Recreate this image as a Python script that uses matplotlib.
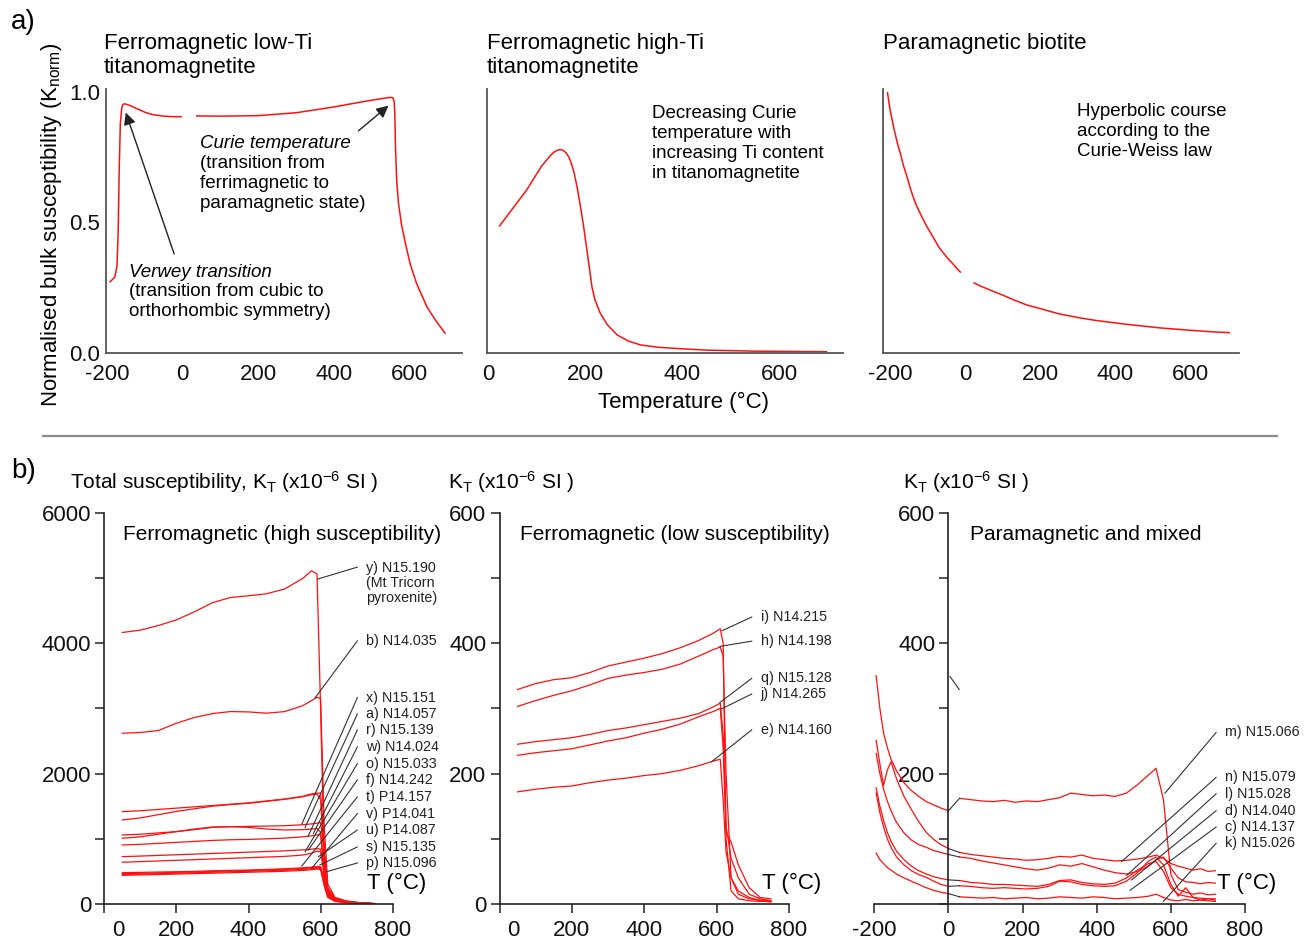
import matplotlib
matplotlib.use('Agg')
import matplotlib.pyplot as plt
from matplotlib.lines import Line2D

plt.rcParams['font.family'] = ['Liberation Sans', 'DejaVu Sans']
plt.rcParams['mathtext.fontset'] = 'custom'
plt.rcParams['mathtext.rm'] = 'Liberation Sans'
plt.rcParams['mathtext.it'] = 'Liberation Sans:italic'
plt.rcParams['mathtext.default'] = 'rm'
plt.rcParams['axes.unicode_minus'] = False

RED = '#ff1010'
GREY = '#333333'

# ---------------- panel a data (normalised curves) ----------------
a1_T1 = [-192, -180, -174, -171, -168, -165, -161, -158, -155, -150, -140, -120, -100, -80, -50, -25, -4]
a1_K1 = [0.273, 0.29, 0.33, 0.45, 0.70, 0.88, 0.94, 0.952, 0.954, 0.953, 0.948, 0.935, 0.922, 0.913, 0.907, 0.905, 0.905]
a1_T2 = [37, 100, 200, 300, 400, 480, 530, 545, 552, 557, 560, 562, 564, 567, 572, 580, 590, 603, 620, 647, 670, 695]
a1_K2 = [0.908, 0.907, 0.909, 0.92, 0.942, 0.963, 0.975, 0.978, 0.979, 0.977, 0.965, 0.92, 0.78, 0.66, 0.57, 0.49, 0.42, 0.34, 0.265, 0.177, 0.125, 0.076]

a2_T = [24, 80, 110, 121, 128, 135, 142, 148, 154, 160, 166, 172, 178, 184, 190, 197, 204, 210, 214, 220, 231, 245, 266, 290, 314, 350, 400, 451, 550, 697]
a2_K = [0.487, 0.625, 0.715, 0.739, 0.755, 0.768, 0.776, 0.779, 0.777, 0.768, 0.752, 0.725, 0.685, 0.63, 0.565, 0.484, 0.39, 0.31, 0.254, 0.205, 0.153, 0.11, 0.069, 0.045, 0.031, 0.022, 0.016, 0.011, 0.007, 0.005]

a3_T1 = [-207, -200, -190, -180, -173, -165, -155, -147, -139, -130, -120, -110, -102, -90, -80, -70, -58, -45, -35, -24, -13]
a3_K1 = [0.997, 0.93, 0.86, 0.80, 0.766, 0.72, 0.675, 0.635, 0.599, 0.565, 0.535, 0.506, 0.484, 0.455, 0.43, 0.405, 0.383, 0.36, 0.345, 0.327, 0.31]
a3_T2 = [24, 40, 60, 80, 100, 130, 164, 200, 250, 300, 342, 390, 430, 475, 520, 565, 610, 660, 704]
a3_K2 = [0.268, 0.257, 0.245, 0.233, 0.222, 0.203, 0.184, 0.17, 0.15, 0.136, 0.126, 0.117, 0.11, 0.103, 0.096, 0.091, 0.086, 0.081, 0.078]

# ---------------- panel b1: high susceptibility ----------------
T_hi = [50, 100, 150, 200, 250, 300, 350, 400, 450, 500, 550, 575, 590, 600, 610, 620, 640, 670, 710, 750]
K_hi = {
    'y': [4163, 4200, 4270, 4357, 4480, 4620, 4700, 4726, 4757, 4830, 4990, 5110, 5060, 3000, 700, 220, 90, 40, 15, 5],
    'b': [2619, 2630, 2660, 2772, 2860, 2920, 2951, 2945, 2926, 2950, 3040, 3120, 3170, 3150, 1200, 300, 100, 50, 20, 8],
    'x': [1417, 1430, 1450, 1470, 1490, 1510, 1530, 1550, 1580, 1610, 1650, 1690, 1700, 1700, 900, 250, 90, 40, 15, 5],
    'a': [1289, 1320, 1370, 1420, 1460, 1500, 1525, 1545, 1575, 1605, 1645, 1675, 1685, 1600, 700, 200, 80, 40, 15, 5],
    'r': [1059, 1070, 1090, 1110, 1140, 1175, 1185, 1190, 1195, 1200, 1215, 1228, 1240, 1250, 800, 200, 80, 40, 15, 5],
    'w': [1008, 1030, 1070, 1110, 1150, 1180, 1185, 1175, 1150, 1135, 1140, 1150, 1160, 1100, 400, 150, 70, 35, 12, 5],
    'o': [905, 915, 930, 945, 960, 975, 985, 990, 1000, 1010, 1030, 1045, 1060, 1060, 600, 180, 70, 35, 12, 5],
    'f': [726, 735, 745, 755, 765, 775, 785, 795, 805, 815, 830, 840, 850, 840, 500, 150, 60, 30, 12, 5],
    't': [640, 650, 660, 670, 680, 690, 700, 710, 720, 730, 750, 780, 810, 800, 450, 150, 60, 30, 12, 5],
    'v': [480, 485, 490, 495, 500, 510, 515, 520, 530, 540, 555, 565, 575, 570, 400, 150, 60, 30, 12, 5],
    'u': [465, 470, 478, 485, 492, 500, 507, 514, 522, 530, 545, 555, 565, 560, 350, 120, 50, 25, 10, 4],
    's': [452, 458, 465, 472, 480, 487, 494, 501, 509, 517, 530, 540, 550, 545, 300, 110, 45, 22, 10, 4],
    'p': [440, 446, 452, 459, 466, 473, 480, 487, 494, 502, 515, 525, 535, 530, 280, 100, 40, 20, 8, 3],
}
lab_hi = ['y) N15.190\n(Mt Tricorn\npyroxenite)', 'b) N14.035', 'x) N15.151', 'a) N14.057', 'r) N15.139',
          'w) N14.024', 'o) N15.033', 'f) N14.242', 't) P14.157', 'v) P14.041', 'u) P14.087',
          's) N15.135', 'p) N15.096']
lab_hi_K = [5166, 4035, 3166, 2915, 2670, 2409, 2153, 1903, 1642, 1386, 1135, 875, 629]
lead_hi_T = [592, 584, 548, 557, 566, 580, 557, 566, 548, 575, 594, 598, 617]
lead_hi_K = [4982, 3156, 1227, 1176, 1048, 1084, 803, 829, 583, 547, 726, 598, 496]

# ---------------- panel b2: low susceptibility ----------------
T_lo = [50, 100, 150, 200, 250, 300, 350, 400, 450, 500, 550, 590, 610, 618, 626, 640, 660, 690, 720, 750]
K_lo = {
    'i': [329, 338, 344, 347, 355, 365, 371, 377, 384, 393, 404, 415, 422, 400, 100, 20, 8, 5, 4, 4],
    'h': [303, 312, 320, 327, 336, 346, 351, 355, 360, 368, 380, 390, 394, 380, 200, 40, 15, 8, 6, 5],
    'q': [245, 249, 252, 255, 260, 266, 270, 275, 280, 285, 292, 302, 308, 260, 120, 70, 40, 15, 8, 5],
    'j': [228, 232, 235, 238, 244, 250, 255, 262, 268, 276, 287, 295, 300, 240, 110, 95, 60, 25, 10, 8],
    'e': [172, 176, 179, 181, 186, 190, 193, 197, 200, 205, 212, 219, 222, 160, 80, 40, 20, 10, 5, 3],
}
lab_lo = ['i) N14.215', 'h) N14.198', 'q) N15.128', 'j) N14.265', 'e) N14.160']
lab_lo_K = [440, 403, 346, 322, 267]
lead_lo_T = [615, 609, 609, 613, 586]
lead_lo_K = [419, 395, 309, 299, 218]

# ---------------- panel b3: paramagnetic and mixed ----------------
T_cold = [-195, -185, -175, -165, -155, -140, -120, -100, -80, -60, -40, -20, 0]
K_cold = {
    'm': [350, 300, 262, 240, 222, 204, 186, 174, 165, 157, 152, 147, 143],
    'n': [251, 215, 182, 205, 218, 192, 165, 145, 126, 110, 99, 91, 85],
    'l': [231, 200, 176, 158, 143, 125, 109, 98, 91, 87, 82, 79, 76],
    'd': [178, 150, 128, 110, 96, 81, 68, 58, 51, 46, 42, 39, 37],
    'c': [170, 140, 118, 100, 87, 72, 60, 51, 45, 41, 35, 30, 27],
    'k': [78, 68, 62, 56, 52, 46, 40, 35, 30, 25, 21, 18, 16],
}
T_hot = [30, 60, 90, 120, 150, 180, 210, 240, 270, 300, 330, 360, 390, 420, 450, 480, 510, 540, 560, 580, 600, 620, 640, 660, 680, 700, 720]
K_hot = {
    'm': [162, 160, 158, 157, 159, 156, 158, 157, 160, 163, 170, 168, 166, 167, 165, 170, 183, 198, 208, 160, 45, 22, 18, 15, 17, 14, 15],
    'n': [79, 76, 74, 72, 70, 69, 67, 68, 70, 73, 72, 75, 70, 68, 66, 67, 69, 72, 75, 70, 62, 58, 55, 52, 54, 50, 51],
    'l': [72, 70, 66, 63, 60, 57, 54, 52, 55, 60, 58, 62, 57, 52, 48, 46, 50, 58, 68, 72, 55, 40, 34, 33, 31, 33, 32],
    'd': [36, 33, 32, 30, 30, 29, 28, 27, 30, 36, 37, 33, 31, 30, 32, 40, 52, 62, 65, 50, 25, 15, 12, 10, 9, 8, 8],
    'c': [28, 27, 25, 24, 25, 24, 23, 24, 27, 35, 34, 30, 28, 27, 28, 35, 48, 66, 72, 60, 30, 12, 25, 10, 6, 8, 6],
    'k': [11, 10, 9, 10, 8, 9, 10, 8, 9, 11, 10, 9, 11, 10, 8, 9, 10, 12, 15, 10, 6, 5, 7, 5, 6, 5, 4],
}
lab_para = ['m) N15.066', 'n) N15.079', 'l) N15.028', 'd) N14.040', 'c) N14.137', 'k) N15.026']
lab_para_K = [263, 194, 169, 143, 118, 93]
lead_para_T = [584, 467, 481, 494, 490, 580]
lead_para_K = [170, 65, 44, 37, 21, 4]

# ---------------- figure ----------------
W, H = 1307, 939
fig = plt.figure(figsize=(W / 100, H / 100), dpi=100)


def box(l, t, r, b):
    return [l / W, 1 - b / H, (r - l) / W, (b - t) / H]


def ftext(x, y, s, **kw):
    fig.text(x / W, 1 - y / H, s, **kw)


def lines(x, y0, step, rows, size, first_italic=False):
    # place each line of a text block on its own, like the reference
    for n, row in enumerate(rows):
        style = 'italic' if (first_italic and n == 0) else 'normal'
        ftext(x, y0 + n * step, row, fontsize=size, va='center', style=style)


def style_a(ax):
    for s in ['top', 'right']:
        ax.spines[s].set_visible(False)
    for s in ['left', 'bottom']:
        ax.spines[s].set_color('#555555')
        ax.spines[s].set_linewidth(1.3)
    ax.tick_params(length=0, labelsize=16, colors='#111111')
    ax.tick_params(axis='x', pad=8)
    ax.tick_params(axis='y', pad=4)
    ax.set_ylim(0, 1.011)


def style_b(ax):
    for s in ['top', 'right']:
        ax.spines[s].set_visible(False)
    for s in ['left', 'bottom']:
        ax.spines[s].set_color('#222222')
        ax.spines[s].set_linewidth(1.2)
    ax.tick_params(which='both', direction='out', length=6.5, width=1.1,
                   labelsize=16, color='#222222', labelcolor='#111111')
    ax.tick_params(axis='x', pad=5)
    ax.tick_params(axis='y', pad=3)


# a1
ax = fig.add_axes(box(106, 89, 462, 353))
style_a(ax)
ax.plot(a1_T1, a1_K1, color=RED, lw=1.1)
ax.plot(a1_T2, a1_K2, color=RED, lw=1.1)
ax.set_xlim(-203, 740)
ax.set_xticks([-200, 0, 200, 400, 600])
ax.set_yticks([0, 0.5, 1.0])
ax.set_yticklabels(['0.0', '0.5', '1.0'])
ax.annotate('', xy=(-153, 0.931), xytext=(-20, 0.369),
            arrowprops=dict(arrowstyle='-|>', color='#222222', lw=1, mutation_scale=18))
ax.annotate('', xy=(551, 0.954), xytext=(460, 0.844),
            arrowprops=dict(arrowstyle='-|>', color='#222222', lw=1, mutation_scale=18))
lines(200, 143, 20, ['Curie temperature', '(transition from', 'ferrimagnetic to', 'paramagnetic state)'],
      13.5, first_italic=True)
lines(129, 272, 19.5, ['Verwey transition', '(transition from cubic to', 'orthorhombic symmetry)'],
      13.5, first_italic=True)

# a2
ax = fig.add_axes(box(487, 89, 843, 353))
style_a(ax)
ax.plot(a2_T, a2_K, color=RED, lw=1.1)
ax.set_xlim(-2, 731)
ax.set_xticks([0, 200, 400, 600])
ax.set_yticks([])
lines(652, 114, 20, ['Decreasing Curie', 'temperature with', 'increasing Ti content', 'in titanomagnetite'], 13.5)

# a3
ax = fig.add_axes(box(883, 89, 1239, 353))
style_a(ax)
ax.plot(a3_T1, a3_K1, color=RED, lw=1.1)
ax.plot(a3_T2, a3_K2, color=RED, lw=1.1)
ax.set_xlim(-219, 730)
ax.set_xticks([-200, 0, 200, 400, 600])
ax.set_yticks([])
lines(1077, 112, 20, ['Hyperbolic course', 'according to the', 'Curie-Weiss law'], 13.5)

# panel a titles and labels
ftext(11, 22, 'a)', fontsize=20, va='center')
lines(104, 43, 24, ['Ferromagnetic low-Ti', 'titanomagnetite'], 16)
lines(487, 43, 24, ['Ferromagnetic high-Ti', 'titanomagnetite'], 16)
ftext(883, 43, 'Paramagnetic biotite', fontsize=16, va='center')
ftext(683, 402, 'Temperature (°C)', fontsize=16, ha='center', va='center')
ftext(52, 225, 'Normalised bulk susceptibility (K$_{\\mathregular{norm}}$)', fontsize=16,
      rotation=90, ha='center', va='center')

fig.add_artist(Line2D([43 / W, 1277 / W], [1 - 436 / H, 1 - 436 / H], color='#8a8a8a', lw=1.6))

# b1
ax = fig.add_axes(box(104.3, 512.7, 392.7, 904))
style_b(ax)
for key, vals in K_hi.items():
    ax.plot(T_hi, vals, color=RED, lw=0.9)
ax.set_xlim(0, 800)
ax.set_ylim(0, 6000)
ax.set_yticks([0, 2000, 4000, 6000])
ax.set_yticks([1000, 3000, 5000], minor=True)
ax.set_xticks([0, 200, 400, 600, 800])
ax.set_xticklabels(['', '200', '400', '600', '800'])
ax.annotate('0', xy=(0, 0), xytext=(10, -11.5), textcoords='offset points',
            ha='center', va='top', fontsize=16, color='#111111')
for i, (lab, k) in enumerate(zip(lab_hi, lab_hi_K)):
    ax.plot([702, lead_hi_T[i]], [k, lead_hi_K[i]], color=GREY, lw=0.8, clip_on=False)
    if i == 0:
        ax.text(726, k + 100, lab, fontsize=10.3, va='top', linespacing=1.12, clip_on=False, color='#222222')
    else:
        ax.text(726, k, lab, fontsize=10.3, va='center', clip_on=False, color='#222222')

# b2
ax = fig.add_axes(box(499.5, 512.7, 789, 904))
style_b(ax)
for key, vals in K_lo.items():
    ax.plot(T_lo, vals, color=RED, lw=0.9)
ax.set_xlim(0, 800)
ax.set_ylim(0, 600)
ax.set_yticks([0, 200, 400, 600])
ax.set_yticks([100, 300, 500], minor=True)
ax.set_xticks([0, 200, 400, 600, 800])
ax.set_xticklabels(['', '200', '400', '600', '800'])
ax.annotate('0', xy=(0, 0), xytext=(10, -11.5), textcoords='offset points',
            ha='center', va='top', fontsize=16, color='#111111')
for i, (lab, k) in enumerate(zip(lab_lo, lab_lo_K)):
    ax.plot([697, lead_lo_T[i]], [k, lead_lo_K[i]], color=GREY, lw=0.8, clip_on=False)
    ax.text(722, k, lab, fontsize=10.3, va='center', clip_on=False, color='#222222')

# b3
ax = fig.add_axes(box(874.3, 512.7, 1245, 904))
style_b(ax)
ax.spines['left'].set_position(('data', 0))
for key in K_cold:
    ax.plot(T_cold, K_cold[key], color=RED, lw=0.9)
    ax.plot(T_hot, K_hot[key], color=RED, lw=0.9)
    ax.plot([T_cold[-1], T_hot[0]], [K_cold[key][-1], K_hot[key][0]], color=GREY, lw=0.8)
ax.plot([4, 29], [349, 329], color=GREY, lw=0.8)
ax.set_xlim(-200, 800)
ax.set_ylim(0, 600)
ax.set_yticks([0, 200, 400, 600])
ax.set_yticklabels(['', '200', '400', '600'])
ax.set_yticks([100, 300, 500], minor=True)
ax.set_xticks([-200, 0, 200, 400, 600, 800])
for i, (lab, k) in enumerate(zip(lab_para, lab_para_K)):
    ax.plot([722, lead_para_T[i]], [k, lead_para_K[i]], color=GREY, lw=0.8, clip_on=False)
    ax.text(746, k, lab, fontsize=10.3, va='center', clip_on=False, color='#222222')

# panel b titles and labels
ftext(11, 471, 'b)', fontsize=20, va='center')
ftext(70, 482, 'Total susceptibility, K$_\\mathregular{T}$ (x10$^{\\mathregular{-6}}$ SI )', fontsize=15, va='center')
ftext(448, 482, 'K$_\\mathregular{T}$ (x10$^{\\mathregular{-6}}$ SI )', fontsize=15, va='center')
ftext(903, 482, 'K$_\\mathregular{T}$ (x10$^{\\mathregular{-6}}$ SI )', fontsize=15, va='center')
ftext(123, 534, 'Ferromagnetic (high susceptibility)', fontsize=15, va='center')
ftext(520, 534, 'Ferromagnetic (low susceptibility)', fontsize=15, va='center')
ftext(970, 534, 'Paramagnetic and mixed', fontsize=15, va='center')
ftext(367, 883, 'T (°C)', fontsize=16, va='center')
ftext(762, 883, 'T (°C)', fontsize=16, va='center')
ftext(1217, 883, 'T (°C)', fontsize=16, va='center')

fig.savefig('out.png', dpi=100, facecolor='white')
